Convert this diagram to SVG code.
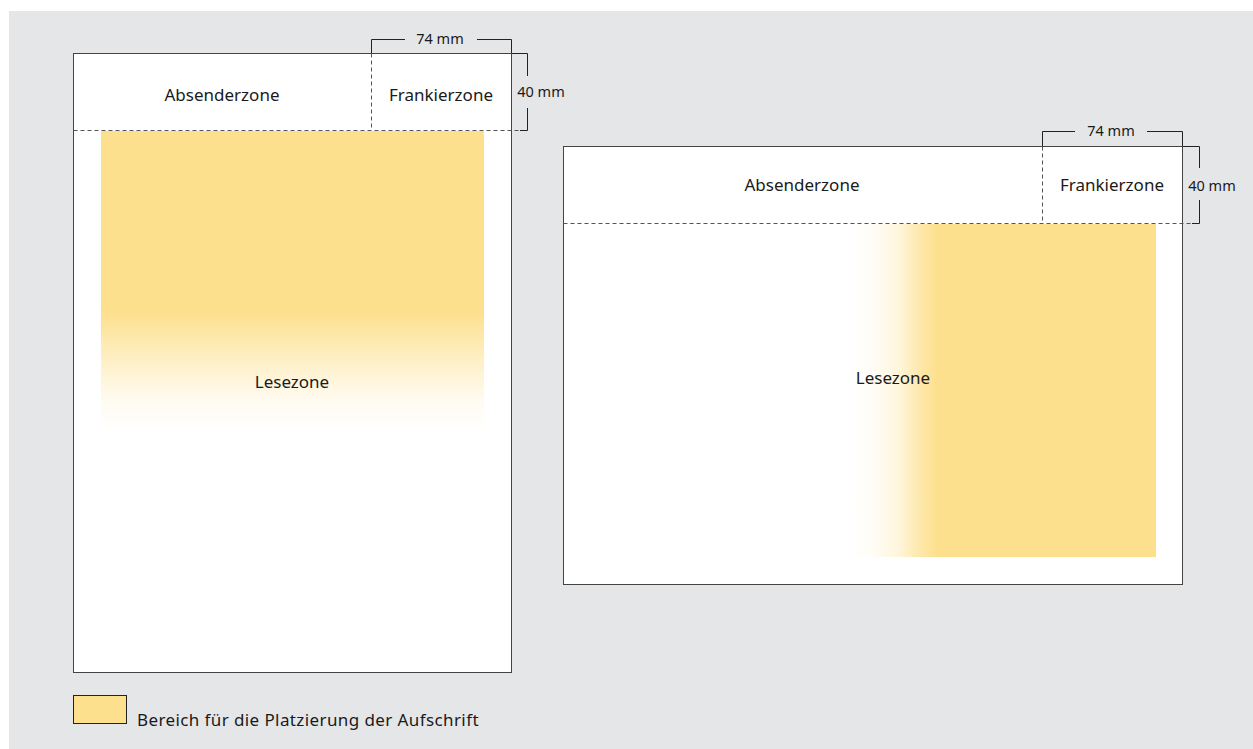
<svg xmlns="http://www.w3.org/2000/svg" width="1253" height="749" viewBox="0 0 1253 749">
  <defs>
    <linearGradient id="fadeDown" x1="0" y1="131" x2="0" y2="432" gradientUnits="userSpaceOnUse">
      <stop offset="0" stop-color="#fde08e" stop-opacity="1"/>
      <stop offset="0.6" stop-color="#fde08e" stop-opacity="1"/>
      <stop offset="0.78" stop-color="#fde08e" stop-opacity="0.45"/>
      <stop offset="0.9" stop-color="#fde08e" stop-opacity="0.12"/>
      <stop offset="1" stop-color="#fde08e" stop-opacity="0"/>
    </linearGradient>
    <linearGradient id="fadeLeft" x1="845" y1="0" x2="1156" y2="0" gradientUnits="userSpaceOnUse">
      <stop offset="0" stop-color="#fde08e" stop-opacity="0"/>
      <stop offset="0.08" stop-color="#fde08e" stop-opacity="0.06"/>
      <stop offset="0.17" stop-color="#fde08e" stop-opacity="0.3"/>
      <stop offset="0.25" stop-color="#fde08e" stop-opacity="0.8"/>
      <stop offset="0.3" stop-color="#fde08e" stop-opacity="1"/>
      <stop offset="1" stop-color="#fde08e" stop-opacity="1"/>
    </linearGradient>
  </defs>
  <style>
    .page { fill: #ffffff; stroke: #444444; stroke-width: 1; }
    .dash { fill: none; stroke: #555555; stroke-width: 1; stroke-dasharray: 4 3; }
    .dim { fill: none; stroke: #222222; stroke-width: 1; }
    .zone { font-family: "Noto Sans", "Open Sans", sans-serif; font-size: 17px; fill: #1a1a1a; text-anchor: middle; }
    .mm { font-family: "Noto Sans", "Open Sans", sans-serif; font-size: 14.5px; fill: #1a1a1a; text-anchor: middle; }
    .legend { font-family: "Noto Sans", "Open Sans", sans-serif; font-size: 17px; letter-spacing: 0.4px; fill: #1a1a1a; }
  </style>

  <!-- backdrop -->
  <rect x="0" y="0" width="1253" height="749" fill="#ffffff"/>
  <rect x="9" y="11" width="1244" height="738" fill="#e5e6e8"/>

  <!-- portrait sheet -->
  <g id="sheet-portrait">
    <rect class="page" x="73.5" y="53.5" width="438" height="619"/>
    <rect x="101" y="131" width="383" height="301" fill="url(#fadeDown)"/>
    <path class="dash" d="M73.5 130.5 H527.5"/>
    <path class="dash" d="M371.5 53.5 V130.5"/>
    <text class="zone" x="222" y="101">Absenderzone</text>
    <text class="zone" x="441" y="101">Frankierzone</text>
    <text class="zone" x="292" y="388">Lesezone</text>
  </g>

  <!-- landscape sheet -->
  <g id="sheet-landscape">
    <rect class="page" x="563.5" y="146.5" width="619" height="438"/>
    <rect x="845" y="224" width="311" height="333" fill="url(#fadeLeft)"/>
    <path class="dash" d="M563.5 223.5 H1199.5"/>
    <path class="dash" d="M1042.5 146.5 V223.5"/>
    <text class="zone" x="802" y="191">Absenderzone</text>
    <text class="zone" x="1112" y="191">Frankierzone</text>
    <text class="zone" x="893" y="384">Lesezone</text>
  </g>

  <!-- dimension brackets -->
  <g id="dimensions">
    <path class="dim" d="M371.5 53 V39.5 H405 M477 39.5 H511.5 V53"/>
    <path class="dim" d="M512 53.5 H527.5 V76 M527.5 108 V130.5 H520"/>
    <path class="dim" d="M1042.5 146 V131.5 H1075 M1147 131.5 H1182.5 V146"/>
    <path class="dim" d="M1183 146.5 H1199.5 V168 M1199.5 200 V223.5 H1192"/>
    <text class="mm" x="440" y="44">74 mm</text>
    <text class="mm" x="541" y="97">40 mm</text>
    <text class="mm" x="1111" y="136">74 mm</text>
    <text class="mm" x="1212" y="191">40 mm</text>
  </g>

  <!-- legend -->
  <g id="legend">
    <rect x="73.5" y="695.5" width="53" height="28" fill="#fde08e" stroke="#222222" stroke-width="1"/>
    <text class="legend" x="137" y="726">Bereich für die Platzierung der Aufschrift</text>
  </g>
</svg>
